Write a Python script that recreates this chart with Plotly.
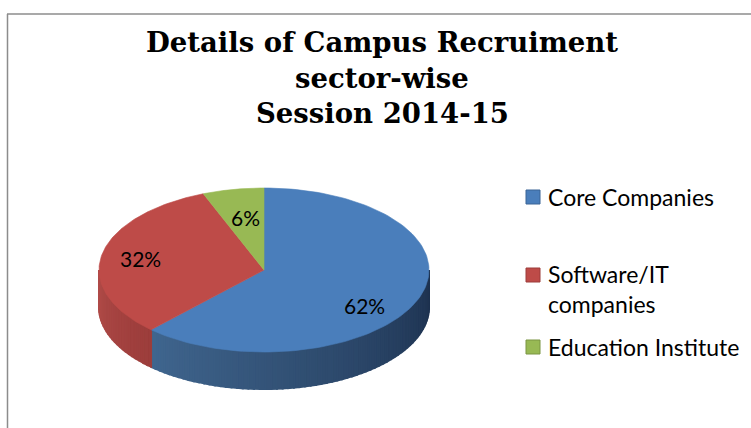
import numpy as np
import plotly.graph_objects as go

# dados do grafico
categories = ["Core Companies", "Software/IT<br>companies", "Education Institute"]
values = [62, 32, 6]
title_lines = ["Details of Campus Recruiment", "sector-wise", "Session 2014-15"]

COLOR_TOP = ["#4a7ebb", "#be4b48", "#98b954"]
COLOR_BORDER = ["#3a6596", "#9c3c3a", "#7a9543"]

# geometria da pizza em pixels (eixos 1:1 com a janela)
WIDTH, HEIGHT = 751, 428
CX, CY, RX, RY, DEPTH = 264, 270, 165, 82, 37

LABEL_POS = [(364, 305), (140, 258), (245, 217)]
LEGEND_Y = [197, 275, 347]
LEGEND_TEXT_Y = [197, 289, 347]


def ellipse_xy(deg, dy=0):
    # angulo em graus, horario a partir do topo
    rad = np.radians(deg)
    return CX + RX * np.sin(rad), CY - RY * np.cos(rad) + dy


def mix(c1, c2, t):
    a = [int(c1[i:i + 2], 16) for i in (1, 3, 5)]
    b = [int(c2[i:i + 2], 16) for i in (1, 3, 5)]
    return "rgb({},{},{})".format(*[round(p + (q - p) * t) for p, q in zip(a, b)])


def add_poly(fig, xs, ys, color, width=0.6):
    fig.add_trace(go.Scatter(
        x=xs, y=ys, mode="lines", fill="toself", fillcolor=color,
        line=dict(color=color, width=width),
        hoverinfo="skip", showlegend=False,
    ))


fig = go.Figure()

edges = np.cumsum([0] + values) * 3.6

# parede lateral (so a metade de baixo aparece)
for start, end, c_a, c_b in [(edges[0], edges[1], "#1c304d", "#40668f"),
                             (edges[1], edges[2], "#9c3d3b", "#b04b48")]:
    a0, a1 = max(start, 90), min(end, 270)
    steps = np.linspace(a0, a1, int((a1 - a0) / 2) + 2)
    for s0, s1 in zip(steps[:-1], steps[1:]):
        x0, y0 = ellipse_xy(s0)
        x1, y1 = ellipse_xy(s1)
        t = (s0 - a0) / (a1 - a0)
        add_poly(fig, [x0, x1, x1, x0, x0], [y0, y1, y1 + DEPTH, y0 + DEPTH, y0],
                 mix(c_a, c_b, t), width=2)

# tampo da pizza
for i in range(len(values)):
    arc = np.linspace(edges[i], edges[i + 1], 120)
    xs, ys = ellipse_xy(arc)
    add_poly(fig, [CX, *xs, CX], [CY, *ys, CY], COLOR_TOP[i])

# rotulos de percentual
for v, (lx, ly) in zip(values, LABEL_POS):
    fig.add_annotation(x=lx, y=ly, text=f"{v}%", showarrow=False,
                       font=dict(family="Lato", size=21, color="#000000"))

# legenda manual (espacamento irregular do original)
fig.add_trace(go.Scatter(
    x=[533] * 3, y=LEGEND_Y, mode="markers",
    marker=dict(symbol="square", size=14, color=COLOR_TOP,
                line=dict(color=COLOR_BORDER, width=1)),
    hoverinfo="skip", showlegend=False,
))
for name, ly in zip(categories, LEGEND_TEXT_Y):
    fig.add_annotation(x=546, y=ly, text=name, showarrow=False, xanchor="left", align="left",
                       font=dict(family="Lato", size=23, color="#000000"))

for line, ly in zip(title_lines, [42, 78, 113]):
    fig.add_annotation(x=382, y=ly, text=f"<b>{line}</b>", showarrow=False,
                       font=dict(family="DejaVu Serif", size=27.5, color="#000000"))

# moldura cinza: so esquerda e topo aparecem no recorte
fig.add_shape(type="line", x0=7.5, x1=7.5, y0=14, y1=HEIGHT, line=dict(color="#8c8c8c", width=1.5))
fig.add_shape(type="line", x0=7, x1=WIDTH, y0=14, y1=14, line=dict(color="#8c8c8c", width=1.5))

fig.update_xaxes(range=[0, WIDTH], visible=False, fixedrange=True)
fig.update_yaxes(range=[HEIGHT, 0], visible=False, fixedrange=True)
fig.update_layout(
    width=WIDTH, height=HEIGHT,
    margin=dict(l=0, r=0, t=0, b=0),
    paper_bgcolor="#ffffff", plot_bgcolor="#ffffff",
)
# tira a margem padrao do body para os pixels baterem com a janela
fig.write_html("out.html", config=dict(displayModeBar=False),
               post_script="document.body.style.margin='0';")
